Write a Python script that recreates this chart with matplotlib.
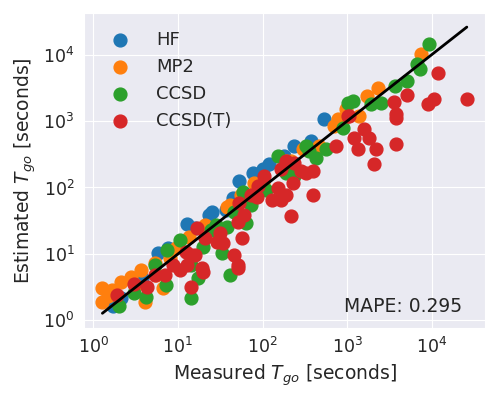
import numpy as np
import matplotlib
matplotlib.use('Agg')
import matplotlib.pyplot as plt
import seaborn as sns

sns.set_style('darkgrid')

# ────────────────────────────────────────────────────────────────────────────────
# measured vs estimated run time [seconds]

hf_meas = [1.72, 2.14, 3.80, 5.88, 7.72, 12.9, 16.1, 23.6, 25.6, 36.5, 44.2,
           53.4, 76.2, 100, 118, 177, 233, 370, 527]
hf_est = [1.62, 2.20, 4.38, 10.4, 12.3, 28.0, 24.4, 38.2, 42.4, 45.4, 68.5,
          127, 167, 192, 228, 300, 424, 503, 1070]

mp2_meas = [1.28, 1.28, 1.50, 1.68, 2.14, 2.82, 3.14, 3.70, 4.12, 5.42, 5.57,
            6.74, 8.15, 9.60, 13.7, 21.1, 37.5, 41.8, 54.9, 78.2, 100, 187,
            214, 297, 460, 692, 772, 960, 1368, 1702, 2296, 7413]
mp2_est = [3.11, 1.92, 2.36, 2.90, 3.82, 4.54, 3.45, 5.77, 1.92, 7.34, 4.86,
           3.11, 8.71, 12.3, 17.9, 27.1, 50.3, 53.9, 76.0, 115, 115, 253,
           253, 382, 424, 842, 1070, 1511, 1188, 2361, 3110, 10350]

ccsd_meas = [2.03, 3.06, 4.24, 5.42, 7.31, 7.51, 10.7, 14.1, 14.1, 17.5, 20.0,
             24.3, 27.8, 33.6, 38.5, 40.7, 45.4, 58.0, 62.9, 72.1, 94.7, 109,
             151, 187, 214, 233, 323, 350, 424, 557, 885, 1014, 1161, 1897,
             2490, 3648, 5058, 6640, 7211, 9207]
ccsd_est = [1.67, 2.62, 2.28, 6.85, 3.45, 11.5, 16.2, 6.85, 2.20, 4.38, 12.7,
            22.8, 27.1, 10.4, 25.3, 4.86, 42.4, 84.2, 29.0, 53.9, 90.2, 90.2,
            300, 167, 213, 151, 424, 357, 281, 382, 787, 1857, 1990, 1794,
            1857, 3330, 3955, 7340, 5970, 14590]

ccsdt_meas = [1.92, 3.06, 4.36, 5.42, 7.11, 8.85, 10.7, 12.3, 14.4, 12.9, 14.1,
              16.1, 17.0, 19.5, 20.0, 21.1, 29.3, 31.8, 34.5, 46.6, 50.6, 50.6,
              50.6, 56.4, 52.0, 59.6, 84.9, 72.1, 87.3, 103, 131, 151, 163, 163,
              187, 187, 226, 233, 282, 323, 391, 391, 214, 731, 1014, 1042,
              1194, 1331, 1567, 1796, 2060, 2174, 3550, 3750, 3750, 3750, 5058,
              8970, 10570, 11780, 25950]
ccsdt_est = [2.44, 3.57, 3.22, 4.86, 4.86, 6.85, 5.77, 10.7, 3.22, 6.85, 9.67,
             9.67, 24.4, 6.18, 5.39, 17.3, 15.1, 20.6, 14.6, 9.67, 30.0, 6.85,
             6.18, 17.3, 57.7, 38.2, 71.0, 76.0, 107, 151, 64.0, 96.6, 192, 64.0,
             76.0, 253, 115, 236, 179, 167, 179, 76.0, 36.9, 424, 1188, 1188,
             557, 382, 760, 557, 228, 382, 1922, 1272, 1109, 454, 2443,
             1794, 2130, 5200, 2130]

mape = 0.295

# ────────────────────────────────────────────────────────────────────────────────

fig, ax = plt.subplots(figsize=(4.98, 3.99), dpi=100)
plt.subplots_adjust(left=0.169, right=0.974, top=0.968, bottom=0.179)

ax.scatter(hf_meas, hf_est, s=85, label='HF')
ax.scatter(mp2_meas, mp2_est, s=85, label='MP2')
ax.scatter(ccsd_meas, ccsd_est, s=85, label='CCSD')
ax.scatter(ccsdt_meas, ccsdt_est, s=85, label='CCSD(T)')

all_meas = hf_meas + mp2_meas + ccsd_meas + ccsdt_meas
lo, hi = min(all_meas), max(all_meas)
ax.plot([lo, hi], [lo, hi], color='black', lw=2)

ax.set_xscale('log')
ax.set_yscale('log')
ax.tick_params(labelsize=12.5)
ax.set_xlabel('Measured $T_{go}$ [seconds]', fontsize=13.5)
ax.set_ylabel('Estimated $T_{go}$ [seconds]', fontsize=13.5)
ax.legend(loc='upper left', fontsize=13, frameon=False,
          borderaxespad=0.6, handletextpad=1.0)
ax.text(0.943, 0.05, 'MAPE: %.3f' % mape, transform=ax.transAxes,
        ha='right', va='baseline', fontsize=13.5, color='#262626')

plt.savefig('out.png', dpi=100)
